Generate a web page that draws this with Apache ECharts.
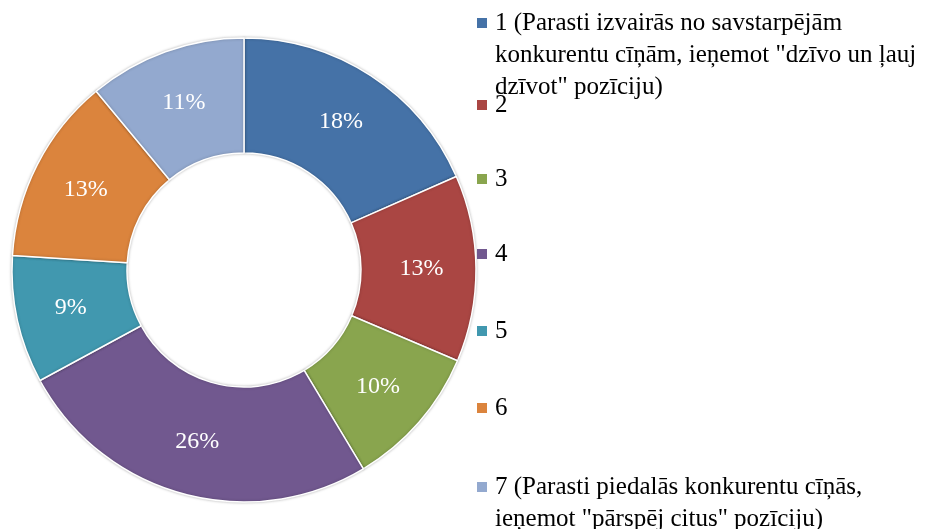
<!DOCTYPE html>
<html>
<head>
<meta charset="utf-8">
<script src="https://cdn.jsdelivr.net/npm/echarts@6/dist/echarts.min.js"></script>
<style>
    html, body { margin: 0; padding: 0; background: #fff; }
    #chart { width: 927px; height: 529px; }
</style>
</head>
<body>
<div id="chart"></div>
<script>
// kategorijas (1..7) un to daļas
const categories = [
    '1 (Parasti izvairās no savstarpējām\nkonkurentu cīņām, ieņemot "dzīvo un ļauj\ndzīvot" pozīciju)',
    '2',
    '3',
    '4',
    '5',
    '6',
    '7 (Parasti piedalās konkurentu cīņās,\nieņemot "pārspēj citus" pozīciju)'
];
const values = [18.4, 13.0, 10.0, 25.7, 8.9, 13.0, 11.0];
const colors = ['#4572A7', '#AA4643', '#89A54E', '#71588F', '#4198AF', '#DB843D', '#93A9CF'];

const serif = '"Liberation Serif", "Times New Roman", serif';

// legend rows: vertical position of each marker centre
const legendCentres = [23, 105, 179, 254, 331, 408, 487];
const lineH = 32;

const chart = echarts.init(document.getElementById('chart'));

// one legend per row so long names can run into the next row like in the original
const legends = categories.map((name, i) => {
    const lines = name.split('\n').length;
    // empty lines in front keep the marker level with the first text line
    const pad = '\n'.repeat(lines - 1);
    const half = (2 * lines - 1) * lineH / 2;
    return {
        data: [name],
        orient: 'vertical',
        left: 477,
        top: legendCentres[i] - half,
        padding: 0,
        itemWidth: 10,
        itemHeight: 10,
        icon: 'rect',
        selectedMode: false,
        itemStyle: { borderWidth: 0, shadowBlur: 0 },
        formatter: n => pad + n,
        textStyle: {
            fontFamily: serif,
            fontSize: 25,
            lineHeight: lineH,
            color: '#000',
            padding: [0, 0, 0, 3]
        }
    };
});

chart.setOption({
    animation: false,
    color: colors,
    legend: legends,
    series: [
        {
            type: 'pie',
            center: [244, 270],
            radius: [117, 232],
            startAngle: 90,
            clockwise: true,
            avoidLabelOverlap: false,
            itemStyle: {
                borderColor: '#fff',
                borderWidth: 1.5,
                shadowBlur: 3,
                shadowColor: 'rgba(0,0,0,0.25)'
            },
            label: {
                show: true,
                position: 'inside',
                color: '#fff',
                fontFamily: serif,
                fontSize: 24,
                formatter: p => Math.round(p.percent) + '%'
            },
            labelLine: { show: false },
            emphasis: { disabled: true },
            data: categories.map((name, i) => ({ name: name, value: values[i] }))
        }
    ]
});
</script>
</body>
</html>
